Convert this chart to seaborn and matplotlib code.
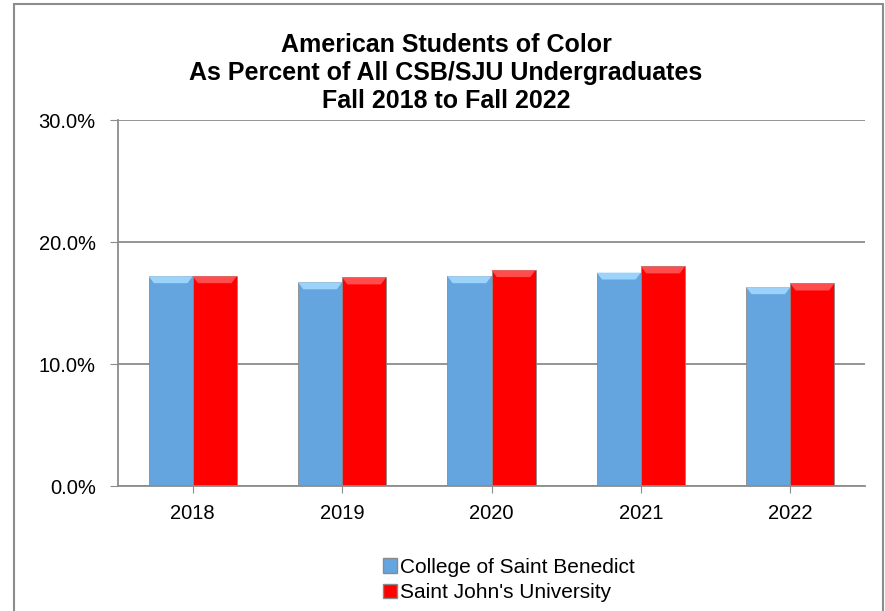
import pandas as pd
import matplotlib.pyplot as plt
import seaborn as sns
from matplotlib.patches import Rectangle, Polygon
from matplotlib.ticker import PercentFormatter

# Datos
anios = ["2018", "2019", "2020", "2021", "2022"]
csb = [17.2, 16.7, 17.2, 17.5, 16.3]
sju = [17.2, 17.1, 17.7, 18.0, 16.6]
escuelas = ["College of Saint Benedict", "Saint John's University"]
colores = ["#64a5e0", "#ff0000"]
brillos = ["#a6dcff", "#ff5a5a"]

df = pd.DataFrame({
    "Año": anios * 2,
    "Porcentaje": csb + sju,
    "Escuela": [escuelas[0]] * len(anios) + [escuelas[1]] * len(anios),
})

sns.set_style("white")
plt.rcParams['font.family'] = ['Liberation Sans', 'DejaVu Sans']
plt.rcParams['text.color'] = 'black'
plt.rcParams['xtick.labelcolor'] = 'black'
plt.rcParams['ytick.labelcolor'] = 'black'

fig = plt.figure(figsize=(8.85, 6.11), dpi=100)
ax = fig.add_axes([118 / 885, 1 - 486 / 611, (865 - 118) / 885, (486 - 120) / 611])

sns.barplot(data=df, x="Año", y="Porcentaje", hue="Escuela",
            palette=colores, saturation=1, width=0.59, ax=ax,
            edgecolor="#8a8a8a", linewidth=0.6, legend=False)

ax.set_ylim(0, 30)
ax.set_yticks([0, 10, 20, 30])
ax.yaxis.set_major_formatter(PercentFormatter(decimals=1))
ax.grid(axis="y", color="#8c8c8c", linewidth=1.3)
ax.set_axisbelow(True)
for s in ["top", "right"]:
    ax.spines[s].set_visible(False)
for s in ["left", "bottom"]:
    ax.spines[s].set_color("#8c8c8c")
    ax.spines[s].set_linewidth(1.3)
ax.tick_params(axis="y", left=True, length=6, color="#8c8c8c", labelsize=14.5, pad=10)
ax.tick_params(axis="x", bottom=True, length=5, color="#8c8c8c", labelsize=14.5, pad=8)
ax.set_xlabel("")
ax.set_ylabel("")

# brillo arriba de cada barra (efecto bisel)
px_y = 30 / ((486 - 120))  # unidades de datos por pixel
for i, p in enumerate(ax.patches[:2 * len(anios)]):
    x0, w, h = p.get_x(), p.get_width(), p.get_height()
    d = 7 * px_y
    dx = w * 0.12
    col = brillos[0] if i < len(anios) else brillos[1]
    ax.add_patch(Polygon([(x0, h), (x0 + w, h), (x0 + w - dx, h - d), (x0 + dx, h - d)],
                         closed=True, facecolor=col, edgecolor="none", alpha=0.85))

fig.text(446 / 885, 1 - 73 / 611, "American Students of Color\nAs Percent of All CSB/SJU Undergraduates\nFall 2018 to Fall 2022",
         ha="center", va="center", fontsize=18, fontweight="bold", linespacing=1.2)

# leyenda
handles = [Rectangle((0, 0), 1, 1, facecolor=colores[0], edgecolor="#8a8a8a"),
           Rectangle((0, 0), 1, 1, facecolor=colores[1], edgecolor="#8a8a8a")]
fig.legend(handles, escuelas, loc="center", bbox_to_anchor=(509 / 885, 1 - 580 / 611),
           frameon=False, fontsize=15, handlelength=0.7, handleheight=0.7,
           handletextpad=0.15, labelspacing=0.3, borderpad=0)

# borde del grafico
fig.patches.append(Rectangle((13.5 / 885, -0.01), (883 - 13.5) / 885, 1 - 4 / 611 + 0.01,
                             transform=fig.transFigure, fill=False,
                             edgecolor="#8c8c8c", linewidth=1.5))

fig.savefig("out.png", dpi=100)
